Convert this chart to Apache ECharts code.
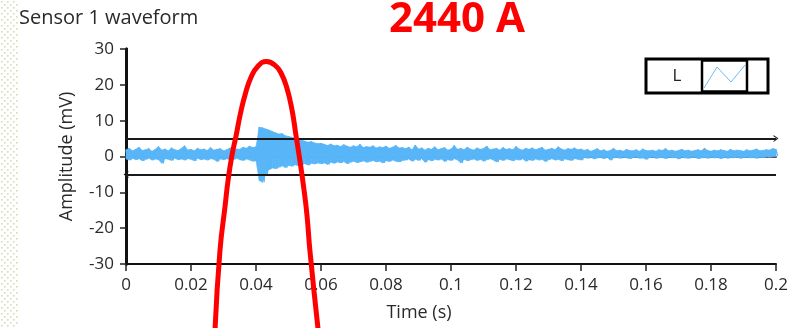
<!DOCTYPE html>
<html><head><meta charset="utf-8">
<script src="https://cdn.jsdelivr.net/npm/echarts@6/dist/echarts.min.js"></script>
<style>html,body{margin:0;padding:0;background:#fff}#c{width:800px;height:328px}</style>
</head><body><div id="c"></div>
<script>
// ---- data ----
const sampleStep = 0.001; // s between envelope samples, from t = 0 to 0.2
// upper edge of the noisy waveform band (mV), one value per sample
const upperEnvelope = [
 1.9,2.3,1.6,2.0,2.6,1.7,1.9,2.2,1.5,2.0, 2.8,1.8,2.1,1.6,2.4,1.9,1.7,2.2,3.0,1.8,
 2.0,1.6,2.3,1.9,2.1,1.7,2.5,1.8,2.0,2.2, 1.6,1.9,2.4,1.8,2.1,2.0,2.6,2.3,2.9,2.5, 2.7,
 8.2,8.0,7.7,7.4,7.0,6.6,6.3,6.4,5.8,5.6, 5.4,5.0,4.8,4.6,4.3,4.0,4.2,3.8,3.6,3.7,
 3.4,3.1,3.5,3.0,3.2,2.8,3.3,2.9,2.6,3.0, 2.7,3.4,2.5,2.8,2.6,3.0,2.4,2.7,2.5,2.9, 2.3,2.6,3.1,2.4,2.5,
 2.2,2.6,1.9,3.2,2.1,2.4,1.8,2.3,2.0,2.7, 1.9,2.2,2.5,1.8,2.1,3.1,2.0,2.3,1.9,2.6,
 2.1,1.8,2.4,2.0,2.2,2.9,1.9,2.1,2.3,1.8, 2.5,2.0,2.2,1.9,2.8,2.1,1.8,2.3,2.0,2.4,
 1.9,2.2,2.6,1.8,2.0,2.3,1.9,2.7,2.1,1.8, 2.2,2.0,2.4,1.9,2.1,
 1.7,2.0,1.5,1.8,2.2,1.6,1.9,1.5,1.7,2.3, 1.6,1.8,1.5,2.0,1.7,1.6,1.9,1.5,2.1,1.7,
 1.6,1.8,1.5,1.9,1.7,2.2,1.6,1.8,1.5,1.7, 2.0,1.6,1.8,1.5,1.7,1.9,1.6,2.3,1.7,1.5,
 1.8,1.6,1.9,1.7,1.5,2.0,1.6,1.8,1.7,1.5, 1.9,1.6,1.8,2.1,1.6,1.7,1.9,1.8,2.2,2.0
];
// lower edge of the noisy waveform band (mV)
const lowerEnvelope = [
 -0.7,-1.0,-0.5,-0.9,-0.6,-1.2,-0.8,-0.5,-1.0,-0.7, -0.9,-1.9,-0.6,-0.8,-1.1,-0.5,-0.9,-0.7,-1.0,-0.6,
 -0.8,-1.2,-0.5,-0.9,-0.7,-1.0,-0.6,-0.8,-1.4,-0.7, -0.9,-0.6,-1.0,-0.8,-0.5,-0.9,-1.1,-0.7,-1.0,-1.3, -1.2,
 -6.7,-7.2,-5.0,-3.6,-3.2,-3.4,-3.0,-2.6,-3.1,-2.5, -2.7,-2.3,-2.6,-2.2,-2.0,-2.4,-1.9,-2.1,-1.8,-2.0,
 -1.8,-2.2,-1.6,-1.9,-1.5,-1.8,-1.4,-2.0,-1.6,-1.3, -1.7,-1.5,-1.2,-1.6,-1.4,-1.1,-1.5,-1.3,-1.8,-1.2, -1.4,-1.0,-1.3,-1.5,-1.1,
 -1.0,-0.7,-1.3,-0.8,-1.1,-0.6,-1.6,-0.9,-1.2,-0.8, -1.0,-0.7,-1.4,-0.9,-1.1,-0.6,-1.0,-1.8,-0.8,-1.2,
 -0.9,-0.7,-1.1,-0.8,-1.3,-0.9,-0.6,-1.0,-1.5,-0.8, -1.1,-0.7,-0.9,-1.2,-0.8,-1.0,-0.6,-1.3,-0.9,-1.1,
 -0.7,-1.0,-0.8,-1.4,-0.9,-0.6,-1.0,-0.8,-1.2,-0.7, -0.9,-1.1,-0.6,-0.8,-1.0,
 -0.3,-0.5,-0.2,-0.7,-0.4,-0.3,-0.6,-0.2,-1.0,-0.4, -0.3,-0.5,-0.2,-0.4,-0.6,-0.3,-0.2,-0.5,-0.4,-0.8,
 -0.3,-0.2,-0.5,-0.4,-0.3,-0.6,-0.2,-0.4,-0.3,-0.7, -0.2,-0.4,-0.5,-0.3,-0.2,-0.6,-0.4,-0.3,-0.5,-0.2,
 -0.4,-0.3,-0.6,-0.2,-0.5,-0.3,-0.4,-0.2,-0.5,-0.3, -0.2,-0.4,-0.3,-0.5,-0.2,-0.3,-0.1,-0.2,0.0,0.1
];
// hand-drawn red annotation curve
const redCurveTime = [0.0274,0.0289,0.0305,0.0314,0.0326,0.0339,0.0351,0.0366,0.0385,0.0406,0.0432,0.0458,0.0477,0.0495,0.0511,0.0523,0.0535,0.0548,0.0557,0.0566,0.0591];
const redCurveValue = [-48.2,-26.4,-13.7,-6.7,0.3,5.9,11.5,17.1,22.2,25.2,26.5,25.5,23.3,19.1,12.9,5.9,-1.1,-9.5,-16.5,-26.4,-48.2];
const thresholdLevels = [5, -5];
const xTicks = {min: 0, max: 0.2, interval: 0.02};
const yTicks = {min: -30, max: 30, interval: 10};
const chartTitle = 'Sensor 1 waveform';
const currentLabel = '2440 A';
const legendLabel = 'L';

// ---- build ----
const WAVE = '#58B5F8';
const wave = [], band = [];
for (let i = 0; i < upperEnvelope.length; i++) {
  const t = i * sampleStep;
  wave.push([t, upperEnvelope[i]]);
  wave.push([t + sampleStep / 2, lowerEnvelope[i]]);
  if (i + 1 < upperEnvelope.length) {
    band.push([t, upperEnvelope[i], lowerEnvelope[i], t + sampleStep, upperEnvelope[i + 1], lowerEnvelope[i + 1]]);
  }
}
const red = redCurveTime.map((t, i) => [t, redCurveValue[i]]);

const pc = document.createElement('canvas'); pc.width = 6; pc.height = 6;
const g = pc.getContext('2d'); g.fillStyle = '#d3ddb8';
g.fillRect(1, 1, 1.6, 1.6); g.fillRect(4, 4, 1.6, 1.6);

const FONT = '"Open Sans", "Noto Sans", sans-serif';
const TXT = '#2a2a2a';
const chevronUp = 'path://M0,10 L5,0 L10,10 L8.4,10 L5,3.4 L1.6,10 Z';

const chart = echarts.init(document.getElementById('c'), null, {renderer: 'canvas'});
chart.setOption({
  animation: false,
  backgroundColor: '#fff',
  grid: {left: 126, right: 24, top: 49, bottom: 64},
  xAxis: [{
    type: 'value', min: xTicks.min, max: xTicks.max, interval: xTicks.interval,
    axisLine: {show: true, onZero: false, lineStyle: {color: '#111', width: 2}},
    axisTick: {show: true, length: 7, lineStyle: {color: '#222', width: 1.5}},
    axisLabel: {fontSize: 17, fontFamily: FONT, color: TXT, margin: 13, showMinLabel: true, showMaxLabel: true},
    splitLine: {show: false},
    name: 'Time (s)', nameLocation: 'middle', nameGap: 40,
    nameTextStyle: {fontSize: 18, fontFamily: FONT, color: TXT, padding: [0, 64, 0, 0]}
  }, {
    type: 'value', position: 'top', min: xTicks.min, max: xTicks.max,
    axisLine: {show: true, lineStyle: {color: '#555', width: 2}},
    axisTick: {show: false}, axisLabel: {show: false}, splitLine: {show: false}
  }],
  yAxis: [{
    type: 'value', min: yTicks.min, max: yTicks.max, interval: yTicks.interval,
    axisLine: {show: true, onZero: false, lineStyle: {color: '#111', width: 3}},
    axisTick: {show: true, length: 6, lineStyle: {color: '#222', width: 1.5}},
    axisLabel: {fontSize: 17, fontFamily: FONT, color: TXT, margin: 12},
    splitLine: {show: false},
    name: 'Amplitude (mV)', nameLocation: 'middle', nameGap: 50,
    nameTextStyle: {fontSize: 18, fontFamily: FONT, color: TXT}
  }, {
    type: 'value', position: 'right', min: yTicks.min, max: yTicks.max,
    axisLine: {show: true, lineStyle: {color: '#111', width: 3}},
    axisTick: {show: false}, axisLabel: {show: false}, splitLine: {show: false}
  }],
  series: [{
    type: 'custom', data: band, silent: true, z: 1,
    encode: {x: [0, 3], y: [1, 2, 4, 5]},
    renderItem: function (params, api) {
      const a = api.coord([api.value(0), api.value(1)]);
      const b = api.coord([api.value(3), api.value(4)]);
      const c = api.coord([api.value(3), api.value(5)]);
      const d = api.coord([api.value(0), api.value(2)]);
      return {type: 'polygon', shape: {points: [a, b, c, d]}, style: {fill: WAVE, stroke: WAVE, lineWidth: 0.6}};
    }
  }, {
    type: 'line', data: wave, showSymbol: false, symbol: 'none', sampling: false,
    lineStyle: {color: WAVE, width: 1.3}, z: 2,
    markLine: {
      silent: true, animation: false, label: {show: false},
      lineStyle: {color: '#1a1a1a', width: 1.8, type: 'solid'},
      data: [
        [{coord: [xTicks.min, thresholdLevels[0]], symbol: 'none'},
         {coord: [xTicks.max, thresholdLevels[0]], symbol: chevronUp, symbolSize: [7, 5]}],
        [{coord: [xTicks.min, thresholdLevels[1]], symbol: chevronUp, symbolSize: [7, 5]},
         {coord: [xTicks.max, thresholdLevels[1]], symbol: 'none'}]
      ]
    }
  }, {
    type: 'line', data: red, smooth: 0.5, showSymbol: false, symbol: 'none', clip: false,
    lineStyle: {color: '#ff0000', width: 5}, z: 10
  }],
  graphic: [
    {type: 'rect', left: 0, top: 0, shape: {width: 18, height: 328}, style: {fill: {image: pc, repeat: 'repeat'}}, silent: true, z: -1},
    {type: 'text', x: 19, y: 18, style: {text: chartTitle, font: '20px ' + FONT, fill: TXT, verticalAlign: 'middle'}},
    {type: 'text', x: 389, y: 20, style: {text: currentLabel, font: 'bold 42px ' + FONT, fill: '#ff0000', verticalAlign: 'middle'}},
    {type: 'rect', shape: {x: 646, y: 59, width: 122, height: 34}, style: {fill: '#fff', stroke: '#000', lineWidth: 3}, z: 20},
    {type: 'rect', shape: {x: 702, y: 60.5, width: 45, height: 31}, style: {fill: '#fff', stroke: '#000', lineWidth: 2.5}, z: 21},
    {type: 'text', x: 677, y: 76, style: {text: legendLabel, font: '17px ' + FONT, fill: '#222', align: 'center', verticalAlign: 'middle'}, z: 22},
    {type: 'polyline', shape: {points: [[704, 88], [717, 67], [731, 82], [745, 65]]}, style: {stroke: '#6cbcf5', lineWidth: 1, fill: null}, z: 22}
  ]
});
</script></body></html>
